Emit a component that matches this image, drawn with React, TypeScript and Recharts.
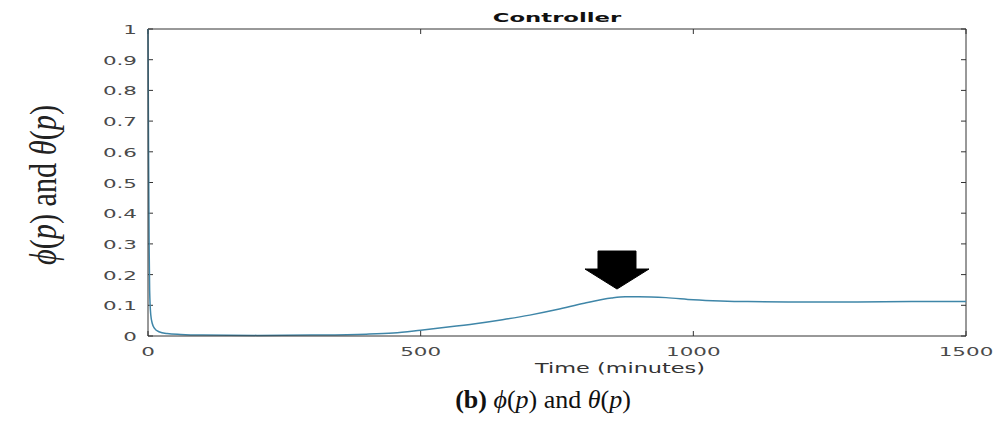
import { LineChart, Line, XAxis, YAxis, ReferenceDot, ReferenceLine } from "recharts";

const times = [0, 1, 2, 3, 5, 8, 12, 20, 35, 60, 100, 200, 300, 400, 450, 500, 550, 600, 650, 700, 750, 800, 850, 875, 900, 950, 1000, 1050, 1100, 1200, 1300, 1400, 1500];
const controller = [1, 0.6, 0.3, 0.15, 0.07, 0.04, 0.025, 0.014, 0.008, 0.005, 0.003, 0.002, 0.003, 0.006, 0.01, 0.019, 0.029, 0.04, 0.053, 0.068, 0.086, 0.107, 0.124, 0.128, 0.128, 0.125, 0.118, 0.114, 0.112, 0.111, 0.111, 0.112, 0.112];

const xTicks = [0, 500, 1000, 1500];
const yTicks = [0, 0.1, 0.2, 0.3, 0.4, 0.5, 0.6, 0.7, 0.8, 0.9, 1];
const yTickLabels = ["0", "0.1", "0.2", "0.3", "0.4", "0.5", "0.6", "0.7", "0.8", "0.9", "1"];

// arrow annotation pointing at the peak
const arrowAt = { t: 860, v: 0.153 };

const data = times.map((t, i) => ({ t, v: controller[i] }));

const W = 995;
const H = 421;
const margin = { top: 29, right: 29, bottom: 55, left: 88 };
const yAxisW = 60;
const xAxisH = 30;
const plotW = W - margin.left - yAxisW - margin.right;
const plotH = H - margin.top - margin.bottom - xAxisH;
const xMax = 1500;
// inward tick length (5px) expressed in data units
const dxTick = (5 / plotW) * xMax;
const dyTick = 5 / plotH;

const axisColor = "#333";
const sans = "DejaVu Sans, Verdana, sans-serif";
const stretch = 1.65;

function Arrow(props: any) {
  const { cx, cy } = props;
  const d = `M ${cx} ${cy} L ${cx - 32} ${cy - 20} L ${cx - 19} ${cy - 20} L ${cx - 19} ${cy - 38} L ${cx + 19} ${cy - 38} L ${cx + 19} ${cy - 20} L ${cx + 32} ${cy - 20} Z`;
  return <path d={d} fill="#000" stroke="#000" strokeWidth={1} strokeLinejoin="round" />;
}

function YTick(props: any) {
  const { x, y, payload } = props;
  const label = yTickLabels[yTicks.indexOf(payload.value)] ?? String(payload.value);
  return (
    <g transform={`translate(${x},${y}) scale(${stretch},1)`}>
      <text x={0} y={0} dy={5} textAnchor="end" fontFamily={sans} fontSize={13} fill="#4a4a4a">
        {label}
      </text>
    </g>
  );
}

function XTick(props: any) {
  const { x, y, payload } = props;
  return (
    <g transform={`translate(${x},${y}) scale(${stretch},1)`}>
      <text x={0} y={0} dy={13} textAnchor="middle" fontFamily={sans} fontSize={13} fill="#4a4a4a">
        {payload.value}
      </text>
    </g>
  );
}

export default function App() {
  return (
    <div style={{ position: "absolute", left: 0, top: 0, width: W, height: H, background: "#fff" }}>
      <LineChart width={W} height={H} data={data} margin={margin}>
        <XAxis
          dataKey="t"
          type="number"
          domain={[0, xMax]}
          ticks={xTicks}
          height={xAxisH}
          stroke={axisColor}
          tickLine={false}
          tickSize={0}
          tickMargin={7}
          tick={<XTick />}
        />
        <YAxis
          type="number"
          domain={[0, 1]}
          ticks={yTicks}
          width={yAxisW}
          stroke={axisColor}
          tickLine={false}
          tickSize={0}
          tickMargin={11}
          tick={<YTick />}
        />
        <ReferenceLine y={1} stroke={axisColor} />
        <ReferenceLine x={xMax} stroke={axisColor} />
        {yTicks.map((v) => (
          <ReferenceLine key={`l${v}`} segment={[{ x: 0, y: v }, { x: dxTick, y: v }]} stroke={axisColor} />
        ))}
        {yTicks.map((v) => (
          <ReferenceLine key={`r${v}`} segment={[{ x: xMax - dxTick, y: v }, { x: xMax, y: v }]} stroke={axisColor} />
        ))}
        {xTicks.map((t) => (
          <ReferenceLine key={`b${t}`} segment={[{ x: t, y: 0 }, { x: t, y: dyTick }]} stroke={axisColor} />
        ))}
        {xTicks.map((t) => (
          <ReferenceLine key={`t${t}`} segment={[{ x: t, y: 1 - dyTick }, { x: t, y: 1 }]} stroke={axisColor} />
        ))}
        <Line type="monotone" dataKey="v" stroke="#3f86a8" strokeWidth={1.5} dot={false} isAnimationActive={false} />
        <ReferenceDot x={arrowAt.t} y={arrowAt.v} r={0} shape={Arrow} />
      </LineChart>
      <svg width={W} height={H} style={{ position: "absolute", left: 0, top: 0, pointerEvents: "none" }}>
        <g transform={`translate(557,22) scale(1.75,1)`}>
          <text x={0} y={0} textAnchor="middle" fontFamily={sans} fontWeight="bold" fontSize={13} fill="#111">
            Controller
          </text>
        </g>
        <g transform={`translate(620,373) scale(1.6,1)`}>
          <text x={0} y={0} textAnchor="middle" fontFamily={sans} fontSize={14} fill="#333">
            Time (minutes)
          </text>
        </g>
        <text
          x={0}
          y={0}
          transform="translate(56,185) rotate(-90)"
          textAnchor="middle"
          fontFamily="Liberation Serif, Times New Roman, serif"
          fontSize={38}
          fill="#222"
          textLength={160}
          lengthAdjust="spacingAndGlyphs"
        >
          <tspan fontStyle="italic">ϕ</tspan>(<tspan fontStyle="italic">p</tspan>) and <tspan fontStyle="italic">θ</tspan>(<tspan fontStyle="italic">p</tspan>)
        </text>
        <text x={543} y={408} textAnchor="middle" fontFamily="Liberation Serif, Times New Roman, serif" fontSize={26} fill="#111">
          <tspan fontWeight="bold">(b)</tspan> <tspan fontStyle="italic">ϕ</tspan>(<tspan fontStyle="italic">p</tspan>) and <tspan fontStyle="italic">θ</tspan>(<tspan fontStyle="italic">p</tspan>)
        </text>
      </svg>
    </div>
  );
}
